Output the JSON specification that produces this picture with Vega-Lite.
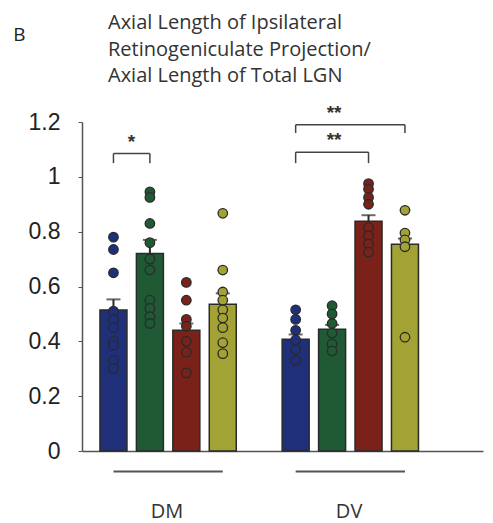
{
  "$schema": "https://vega.github.io/schema/vega-lite/v6.json",
  "autosize": {"type": "none"},
  "padding": {"left": 82, "top": 122, "right": 10, "bottom": 72},
  "width": 401,
  "height": 329,
  "background": "white",
  "config": {"view": {"stroke": null}},
  "title": {
    "text": ["Axial Length of Ipsilateral", "Retinogeniculate Projection/", "Axial Length of Total LGN"],
    "anchor": "start",
    "frame": "group",
    "dx": 26,
    "offset": -61,
    "font": "Open Sans",
    "fontSize": 20,
    "fontWeight": "normal",
    "color": "#333",
    "lineHeight": 26.5
  },
  "datasets": {
    "bars": [
      {"slot": "DM-1", "cond": "c1", "mean": 0.514, "err": 0.553},
      {"slot": "DM-2", "cond": "c2", "mean": 0.72, "err": 0.77},
      {"slot": "DM-3", "cond": "c3", "mean": 0.44, "err": 0.465},
      {"slot": "DM-4", "cond": "c4", "mean": 0.535, "err": 0.575},
      {"slot": "DV-1", "cond": "c1", "mean": 0.408, "err": 0.425},
      {"slot": "DV-2", "cond": "c2", "mean": 0.444, "err": 0.46},
      {"slot": "DV-3", "cond": "c3", "mean": 0.838, "err": 0.86},
      {"slot": "DV-4", "cond": "c4", "mean": 0.754, "err": 0.775}
    ],
    "points": [
      {"slot": "DM-1", "cond": "c1", "v": 0.78}, {"slot": "DM-1", "cond": "c1", "v": 0.735}, {"slot": "DM-1", "cond": "c1", "v": 0.65}, {"slot": "DM-1", "cond": "c1", "v": 0.51}, {"slot": "DM-1", "cond": "c1", "v": 0.48}, {"slot": "DM-1", "cond": "c1", "v": 0.45}, {"slot": "DM-1", "cond": "c1", "v": 0.4}, {"slot": "DM-1", "cond": "c1", "v": 0.385}, {"slot": "DM-1", "cond": "c1", "v": 0.33}, {"slot": "DM-1", "cond": "c1", "v": 0.3},
      {"slot": "DM-2", "cond": "c2", "v": 0.945}, {"slot": "DM-2", "cond": "c2", "v": 0.925}, {"slot": "DM-2", "cond": "c2", "v": 0.83}, {"slot": "DM-2", "cond": "c2", "v": 0.76}, {"slot": "DM-2", "cond": "c2", "v": 0.7}, {"slot": "DM-2", "cond": "c2", "v": 0.66}, {"slot": "DM-2", "cond": "c2", "v": 0.55}, {"slot": "DM-2", "cond": "c2", "v": 0.52}, {"slot": "DM-2", "cond": "c2", "v": 0.49}, {"slot": "DM-2", "cond": "c2", "v": 0.465},
      {"slot": "DM-3", "cond": "c3", "v": 0.615}, {"slot": "DM-3", "cond": "c3", "v": 0.55}, {"slot": "DM-3", "cond": "c3", "v": 0.48}, {"slot": "DM-3", "cond": "c3", "v": 0.455}, {"slot": "DM-3", "cond": "c3", "v": 0.4}, {"slot": "DM-3", "cond": "c3", "v": 0.36}, {"slot": "DM-3", "cond": "c3", "v": 0.285},
      {"slot": "DM-4", "cond": "c4", "v": 0.867}, {"slot": "DM-4", "cond": "c4", "v": 0.66}, {"slot": "DM-4", "cond": "c4", "v": 0.58}, {"slot": "DM-4", "cond": "c4", "v": 0.55}, {"slot": "DM-4", "cond": "c4", "v": 0.515}, {"slot": "DM-4", "cond": "c4", "v": 0.485}, {"slot": "DM-4", "cond": "c4", "v": 0.45}, {"slot": "DM-4", "cond": "c4", "v": 0.395}, {"slot": "DM-4", "cond": "c4", "v": 0.355},
      {"slot": "DV-1", "cond": "c1", "v": 0.515}, {"slot": "DV-1", "cond": "c1", "v": 0.48}, {"slot": "DV-1", "cond": "c1", "v": 0.44}, {"slot": "DV-1", "cond": "c1", "v": 0.405}, {"slot": "DV-1", "cond": "c1", "v": 0.37}, {"slot": "DV-1", "cond": "c1", "v": 0.33},
      {"slot": "DV-2", "cond": "c2", "v": 0.53}, {"slot": "DV-2", "cond": "c2", "v": 0.5}, {"slot": "DV-2", "cond": "c2", "v": 0.465}, {"slot": "DV-2", "cond": "c2", "v": 0.43}, {"slot": "DV-2", "cond": "c2", "v": 0.39}, {"slot": "DV-2", "cond": "c2", "v": 0.365},
      {"slot": "DV-3", "cond": "c3", "v": 0.975}, {"slot": "DV-3", "cond": "c3", "v": 0.955}, {"slot": "DV-3", "cond": "c3", "v": 0.925}, {"slot": "DV-3", "cond": "c3", "v": 0.9}, {"slot": "DV-3", "cond": "c3", "v": 0.815}, {"slot": "DV-3", "cond": "c3", "v": 0.785}, {"slot": "DV-3", "cond": "c3", "v": 0.755}, {"slot": "DV-3", "cond": "c3", "v": 0.725},
      {"slot": "DV-4", "cond": "c4", "v": 0.878}, {"slot": "DV-4", "cond": "c4", "v": 0.795}, {"slot": "DV-4", "cond": "c4", "v": 0.77}, {"slot": "DV-4", "cond": "c4", "v": 0.745}, {"slot": "DV-4", "cond": "c4", "v": 0.415}
    ],
    "brackets": [
      {"group": "DM", "from": "DM-1", "to": "DM-2", "top": 1.085, "bottom": 1.05, "label": "*", "labelSlot": "DM-1"},
      {"group": "DV", "from": "DV-1", "to": "DV-4", "top": 1.19, "bottom": 1.16, "label": "**", "labelSlot": "DV-2"},
      {"group": "DV", "from": "DV-1", "to": "DV-3", "top": 1.09, "bottom": 1.05, "label": "**", "labelSlot": "DV-2"}
    ],
    "groups": [
      {"group": "DM", "from": "DM-1", "to": "DM-4", "level": -0.075},
      {"group": "DV", "from": "DV-1", "to": "DV-4", "level": -0.075}
    ]
  },
  "layer": [
    {
      "data": {"name": "bars"},
      "mark": {"type": "bar", "stroke": "#2a2a2a", "strokeWidth": 1.5},
      "encoding": {
        "x": {
          "field": "slot", "type": "nominal",
          "scale": {"domain": ["DM-1", "DM-2", "DM-3", "DM-4", "gap", "DV-1", "DV-2", "DV-3", "DV-4", "end"], "paddingInner": 0.259, "paddingOuter": 0.632, "align": 0.39},
          "axis": {
            "title": null, "ticks": false, "labelAngle": 0,
            "domainColor": "#555", "domainWidth": 1.5,
            "labelExpr": "datum.value == 'DM-2' ? 'DM' : datum.value == 'DV-2' ? 'DV' : ''",
            "labelOffset": 17, "labelPadding": 60, "labelBaseline": "middle",
            "labelFont": "Open Sans", "labelFontSize": 20, "labelColor": "#333",
            "labelOverlap": false, "labelBound": false
          }
        },
        "y": {
          "field": "mean", "type": "quantitative",
          "scale": {"domain": [0, 1.2], "nice": false},
          "axis": {
            "values": [0, 0.2, 0.4, 0.6, 0.8, 1, 1.2], "format": "~g", "grid": false,
            "domainColor": "#555", "domainWidth": 1.5, "tickColor": "#555", "tickSize": 4,
            "labelFont": "Liberation Sans", "labelFontSize": 23, "labelColor": "#222", "labelPadding": 18,
            "title": "B", "titleAngle": 0, "titleX": -63, "titleY": -88,
            "titleAlign": "center", "titleBaseline": "middle",
            "titleFont": "Open Sans", "titleFontSize": 19, "titleFontWeight": "normal", "titleColor": "#222"
          }
        },
        "color": {
          "field": "cond", "type": "nominal",
          "scale": {"domain": ["c1", "c2", "c3", "c4"], "range": ["#1f2f7a", "#1f5a35", "#7a2219", "#a3a235"]},
          "legend": null
        }
      }
    },
    {
      "data": {"name": "bars"},
      "mark": {"type": "rule", "color": "#2a2a2a", "strokeWidth": 2},
      "encoding": {
        "x": {"field": "slot", "type": "nominal"},
        "y": {"field": "mean", "type": "quantitative"},
        "y2": {"field": "err"}
      }
    },
    {
      "data": {"name": "bars"},
      "mark": {"type": "tick", "orient": "horizontal", "color": "#2a2a2a", "size": 14, "thickness": 2},
      "encoding": {
        "x": {"field": "slot", "type": "nominal"},
        "y": {"field": "err", "type": "quantitative"}
      }
    },
    {
      "data": {"name": "points"},
      "mark": {"type": "point", "shape": "circle", "filled": true, "size": 90, "opacity": 1, "stroke": "#2a2a2a", "strokeWidth": 1.3},
      "encoding": {
        "x": {"field": "slot", "type": "nominal"},
        "y": {"field": "v", "type": "quantitative"},
        "color": {"field": "cond", "type": "nominal", "legend": null}
      }
    },
    {
      "data": {"name": "brackets"},
      "mark": {"type": "rule", "color": "#444", "strokeWidth": 1.5},
      "encoding": {
        "x": {"field": "from", "type": "nominal"},
        "x2": {"field": "to"},
        "y": {"field": "top", "type": "quantitative"}
      }
    },
    {
      "data": {"name": "brackets"},
      "mark": {"type": "rule", "color": "#444", "strokeWidth": 1.5},
      "encoding": {
        "x": {"field": "from", "type": "nominal"},
        "y": {"field": "top", "type": "quantitative"},
        "y2": {"field": "bottom"}
      }
    },
    {
      "data": {"name": "brackets"},
      "mark": {"type": "rule", "color": "#444", "strokeWidth": 1.5},
      "encoding": {
        "x": {"field": "to", "type": "nominal"},
        "y": {"field": "top", "type": "quantitative"},
        "y2": {"field": "bottom"}
      }
    },
    {
      "data": {"name": "brackets"},
      "transform": [{"filter": "datum.group == 'DM'"}],
      "mark": {"type": "text", "font": "Liberation Sans", "fontSize": 19, "fontWeight": "bold", "color": "#333", "baseline": "middle", "dx": 18, "dy": -12},
      "encoding": {
        "x": {"field": "labelSlot", "type": "nominal"},
        "y": {"field": "top", "type": "quantitative"},
        "text": {"field": "label"}
      }
    },
    {
      "data": {"name": "brackets"},
      "transform": [{"filter": "datum.group == 'DV'"}],
      "mark": {"type": "text", "font": "Liberation Sans", "fontSize": 19, "fontWeight": "bold", "color": "#333", "baseline": "middle", "dx": 2, "dy": -12},
      "encoding": {
        "x": {"field": "labelSlot", "type": "nominal"},
        "y": {"field": "top", "type": "quantitative"},
        "text": {"field": "label"}
      }
    },
    {
      "data": {"name": "groups"},
      "mark": {"type": "rule", "color": "#555", "strokeWidth": 2},
      "encoding": {
        "x": {"field": "from", "type": "nominal"},
        "x2": {"field": "to"},
        "y": {"field": "level", "type": "quantitative"}
      }
    }
  ]
}
